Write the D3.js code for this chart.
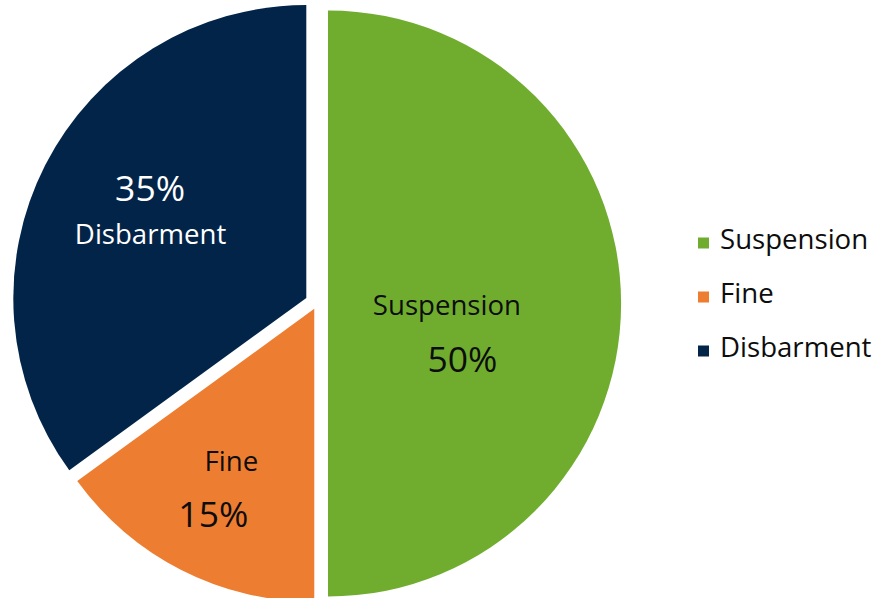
<!DOCTYPE html>
<html>
<head>
<meta charset="utf-8">
<script src="https://cdn.jsdelivr.net/npm/d3@7"></script>
<style>
  html, body { margin: 0; padding: 0; background: #fff; }
  svg { display: block; }
  text { font-family: "Open Sans", "Noto Sans", sans-serif; }
</style>
</head>
<body>
<svg id="chart" width="874" height="598"></svg>
<script>
// ---- data ----
const categories = ["Suspension", "Fine", "Disbarment"];
const values = [50, 15, 35];
const percentLabels = ["50%", "15%", "35%"];
const colors = ["#70AD2F", "#ED7D31", "#022448"];

// ---- layout ----
const W = 874, H = 598;
const cx = 317, cy = 303.5, R = 293;
const explode = [11, 6, 12];           // slice offsets (px)
const labelRadius = [0.44, 0.68, 0.61]; // fraction of R
// per-slice label line placement relative to anchor
const labelOffsets = [
  { name: [-10, 11.5], pct: [5.5, 68.5], color: "#0d0d0d" },
  { name: [7.5, -15], pct: [-10.5, 41], color: "#0d0d0d" },
  { name: [3.5, 27], pct: [3, -16], color: "#ffffff" }
];

const svg = d3.select("#chart");
const data = categories.map((c, i) => ({ cat: c, value: values[i], pct: percentLabels[i], color: colors[i], i }));

const pie = d3.pie().sort(null).value(d => d.value);
const arcs = pie(data);
const arc = d3.arc().innerRadius(0).outerRadius(R);

const g = svg.append("g").attr("transform", `translate(${cx},${cy})`);

function offsetOf(a, dist) {
  const mid = (a.startAngle + a.endAngle) / 2;
  return [Math.sin(mid) * dist, -Math.cos(mid) * dist];
}

const slices = g.selectAll("g.slice").data(arcs).enter().append("g")
  .attr("class", "slice")
  .attr("transform", d => {
    const [ox, oy] = offsetOf(d, explode[d.data.i]);
    return `translate(${ox},${oy})`;
  });

slices.append("path")
  .attr("d", arc)
  .attr("fill", d => d.data.color);

slices.each(function(d) {
  const i = d.data.i;
  const [ax, ay] = offsetOf(d, labelRadius[i] * R);
  const lo = labelOffsets[i];
  const sel = d3.select(this);
  sel.append("text")
    .attr("x", ax + lo.name[0]).attr("y", ay + lo.name[1])
    .attr("text-anchor", "middle")
    .attr("font-size", 27.6)
    .attr("fill", lo.color)
    .text(d.data.cat);
  sel.append("text")
    .attr("x", ax + lo.pct[0]).attr("y", ay + lo.pct[1])
    .attr("text-anchor", "middle")
    .attr("font-size", 35.5)
    .attr("fill", lo.color)
    .text(d.data.pct);
});

// ---- legend ----
const legendY = d3.scalePoint().domain(categories).range([243, 351]);
const legend = svg.append("g");
const items = legend.selectAll("g").data(data).enter().append("g")
  .attr("transform", d => `translate(0,${legendY(d.cat)})`);
items.append("rect")
  .attr("x", 698).attr("y", -5.5)
  .attr("width", 11).attr("height", 11)
  .attr("fill", d => d.color);
items.append("text")
  .attr("x", 720).attr("y", 5.5)
  .attr("font-size", 27.6)
  .attr("fill", "#0d0d0d")
  .text(d => d.cat);
</script>
</body>
</html>
